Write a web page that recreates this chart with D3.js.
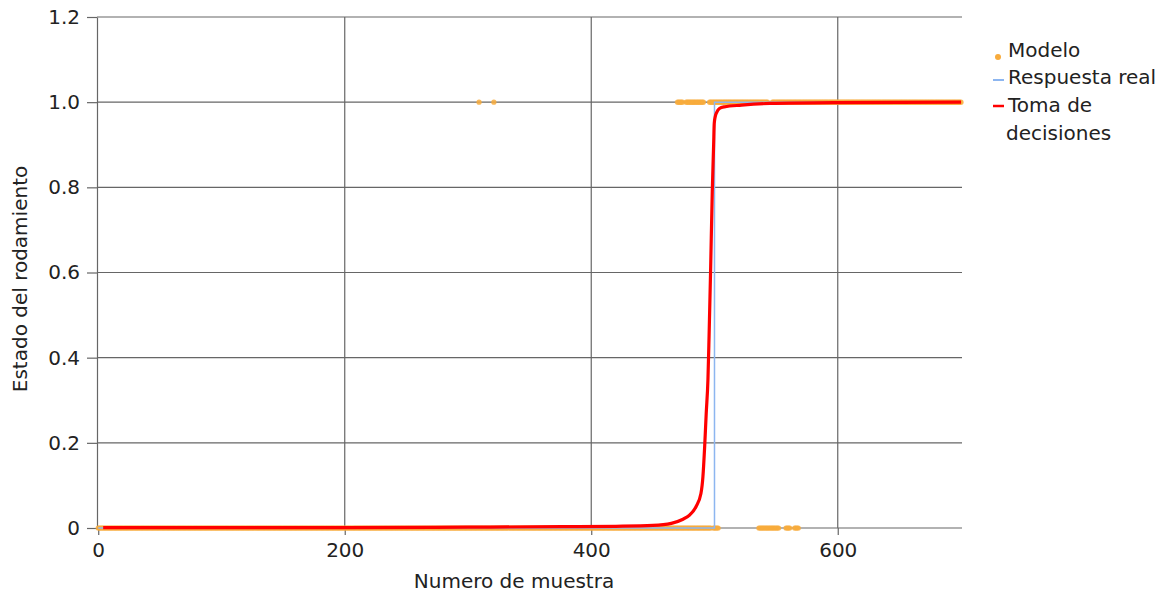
<!DOCTYPE html>
<html>
<head>
<meta charset="utf-8">
<script src="https://cdn.jsdelivr.net/npm/d3@7"></script>
<style>
  body { margin: 0; background: #fff; }
  text { font-family: "DejaVu Sans", Verdana, sans-serif; }
</style>
</head>
<body>
<div id="chart"></div>
<script>
// x ticks / y ticks
var xTicks = [0, 200, 400, 600];
var yTicks = [0, 0.2, 0.4, 0.6, 0.8, 1.0, 1.2];
var yTickLabels = ["0", "0.2", "0.4", "0.6", "0.8", "1.0", "1.2"];

// Modelo: runs of samples [from, to] predicted as 1 or 0
var modelHighRuns = [[309, 309], [321, 321], [470, 474], [477, 491], [496, 543], [547, 700]];
var modelLowRuns = [[0, 497], [499, 503], [536, 552], [558, 561], [565, 568]];

// Respuesta real: step points
var realX = [0, 500, 500, 700];
var realY = [0, 0, 1, 1];

// Toma de decisiones: points
var decisionX = [4, 100, 200, 300, 376, 420, 450, 465, 474, 480, 485, 489, 490.6, 492, 493.3, 494.7, 495.6, 496.8, 498.2, 499.3, 499.8, 500.6, 501.8, 504, 508, 522, 545, 600, 700];
var decisionY = [0.001, 0.001, 0.001, 0.002, 0.003, 0.004, 0.006, 0.011, 0.02, 0.031, 0.05, 0.081, 0.12, 0.19, 0.27, 0.35, 0.45, 0.6, 0.79, 0.9, 0.95, 0.966, 0.976, 0.985, 0.989, 0.993, 0.997, 0.999, 1.0];

var legendLabels = ["Modelo", "Respuesta real", "Toma de", "decisiones"];

var W = 1175, H = 598;
var svg = d3.select("#chart").append("svg")
    .attr("width", W)
    .attr("height", H);

var x = d3.scaleLinear().domain([-1, 700]).range([97, 961]);
var y = d3.scaleLinear().domain([0, 1.2]).range([528, 17]);

var gridColor = "#666";

// grid lines
svg.append("g")
  .selectAll("line")
  .data(yTicks.slice(1))
  .enter().append("line")
    .attr("x1", x(-1)).attr("x2", 962)
    .attr("y1", d => y(d)).attr("y2", d => y(d))
    .attr("stroke", gridColor)
    .attr("stroke-width", 1.2);

svg.append("g")
  .selectAll("line")
  .data(xTicks.slice(1))
  .enter().append("line")
    .attr("x1", d => x(d)).attr("x2", d => x(d))
    .attr("y1", y(0)).attr("y2", y(1.2))
    .attr("stroke", gridColor)
    .attr("stroke-width", 1.2);

// axes
var xAxis = svg.append("g")
    .attr("transform", "translate(0," + y(0) + ")")
    .call(d3.axisBottom(x).tickValues(xTicks).tickSize(7).tickPadding(8).tickSizeOuter(0));
xAxis.select(".domain").attr("d", "M" + x(-1) + ",0H962");

var yAxis = svg.append("g")
    .attr("transform", "translate(" + x(-1) + ",0)")
    .call(d3.axisLeft(y).tickValues(yTicks).tickFormat((d, i) => yTickLabels[i]).tickSize(10).tickPadding(7).tickSizeOuter(0));

svg.selectAll(".tick line, .domain").attr("stroke", gridColor).attr("stroke-width", 1.2);
svg.selectAll(".tick text").style("font-size", "20px").attr("fill", "#222");

// Modelo dots
var modelPts = [];
modelLowRuns.forEach(function(r) {
  for (var i = r[0]; i <= r[1]; i++) modelPts.push({s: i, v: 0});
});
modelHighRuns.forEach(function(r) {
  for (var i = r[0]; i <= r[1]; i++) modelPts.push({s: i, v: 1});
});

var orange = "#f8ab3c";
svg.append("g")
  .selectAll("circle")
  .data(modelPts)
  .enter().append("circle")
    .attr("cx", d => x(d.s))
    .attr("cy", d => y(d.v))
    .attr("r", 2.6)
    .attr("fill", orange)
    .attr("opacity", 0.85);

// Respuesta real
var realData = realX.map((d, i) => ({s: d, v: realY[i]}));
svg.append("path")
  .datum(realData)
  .attr("fill", "none")
  .attr("stroke", "#8db6f0")
  .attr("stroke-width", 1.5)
  .attr("d", d3.line().x(d => x(d.s)).y(d => y(d.v)));

// Toma de decisiones
var decisionData = decisionX.map((d, i) => ({s: d, v: decisionY[i]}));
svg.append("path")
  .datum(decisionData)
  .attr("fill", "none")
  .attr("stroke", "#ff0000")
  .attr("stroke-width", 3.2)
  .attr("d", d3.line().curve(d3.curveMonotoneX).x(d => x(d.s)).y(d => y(d.v)));

// axis titles
svg.append("text")
  .attr("x", 514).attr("y", 588)
  .attr("text-anchor", "middle")
  .style("font-size", "20px")
  .attr("fill", "#222")
  .text("Numero de muestra");

svg.append("text")
  .attr("transform", "translate(27,279) rotate(-90)")
  .attr("text-anchor", "middle")
  .style("font-size", "20px")
  .attr("fill", "#222")
  .text("Estado del rodamiento");

// legend
var lg = svg.append("g");
var baselines = [57, 84, 112, 140];
lg.selectAll("text")
  .data(legendLabels)
  .enter().append("text")
    .attr("x", (d, i) => i === 3 ? 1006 : 1008)
    .attr("y", (d, i) => baselines[i])
    .style("font-size", "20px")
    .attr("fill", "#222")
    .text(d => d);

lg.append("circle").attr("cx", 998).attr("cy", 57).attr("r", 3).attr("fill", orange);
lg.append("line").attr("x1", 993).attr("x2", 1004).attr("y1", 80).attr("y2", 80)
  .attr("stroke", "#8db6f0").attr("stroke-width", 2);
lg.append("line").attr("x1", 993).attr("x2", 1004).attr("y1", 106).attr("y2", 106)
  .attr("stroke", "#ff0000").attr("stroke-width", 2.5);
</script>
</body>
</html>
